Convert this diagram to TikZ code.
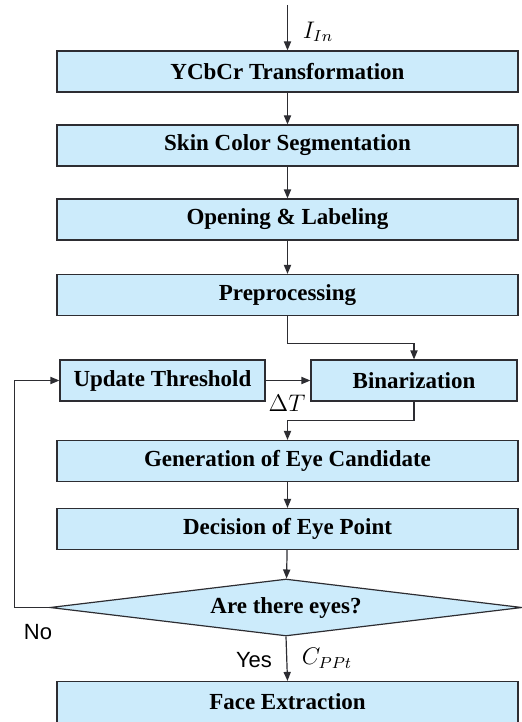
\documentclass[tikz,border=0pt]{standalone}
\usepackage{fontspec}
\setmainfont{Liberation Serif}
\newfontfamily\yesnofont{Liberation Sans}
\usepackage{tikz}
\usetikzlibrary{shapes.geometric, arrows.meta, positioning, calc}
\definecolor{boxblue}{RGB}{204,235,251}
\definecolor{edgegray}{RGB}{45,45,50}

\begin{document}
\begin{tikzpicture}[
    x=0.5pt, y=-0.5pt,
    box/.style={rectangle, draw=edgegray, line width=0.6pt, fill=boxblue, minimum height=20.5pt, inner sep=0pt, align=center, font=\fontsize{11.5}{13}\selectfont\bfseries},
    check/.style={diamond, aspect=8.28, draw=edgegray, line width=0.6pt, fill=boxblue, minimum width=236pt, minimum height=28.5pt, inner sep=0pt, font=\fontsize{11.5}{13}\selectfont\bfseries},
    arrow/.style={-{Triangle[length=4.5pt,width=3.6pt]}, line width=0.6pt, draw=edgegray},
    mathlbl/.style={font=\fontsize{11.5}{13}\selectfont},
    yesno/.style={font=\fontsize{11}{13}\selectfont\yesnofont}
]
\useasboundingbox (0,0) rectangle (522,722);

\coordinate (input) at (287.5,5);
\node[box, minimum width=230.5pt] (ycbcr) at (287.5,71.5) {YCbCr Transformation};
\node[box, minimum width=230.5pt] (skin) at (287.5,145.5) {Skin Color Segmentation};
\node[box, minimum width=230.5pt] (opening) at (287.5,219.5) {Opening \& Labeling};
\node[box, minimum width=230.5pt] (prep) at (287.5,295) {Preprocessing};
\node[box, minimum width=102.5pt] (update) at (162.5,380.5) {Update Threshold};
\node[box, minimum width=103pt] (binar) at (414,380.5) {Binarization};
\node[box, minimum width=230.5pt] (gen) at (287.5,461) {Generation of Eye Candidate};
\node[box, minimum width=230.5pt] (decide) at (287.5,529) {Decision of Eye Point};
\node[check] (eyes) at (286,607.5) {Are there eyes?};
\node[box, minimum width=230.5pt] (face) at (287.5,702) {Face Extraction};

\node[mathlbl] (iin) at (318,32) {$I_{In}$};
\node[mathlbl] (dt) at (287,403) {$\Delta T$};
\node[yesno] (yes) at (254,660) {Yes};
\node[yesno] (no) at (38,632) {No};
\node[mathlbl] (cppt) at (327,658) {$C_{PPt}$};

\draw[arrow] (input) -- (ycbcr);
\draw[arrow] (ycbcr) -- (skin);
\draw[arrow] (skin) -- (opening);
\draw[arrow] (opening) -- (prep);
\draw[arrow] (prep.south) -- ++(0,27) -| (binar.north);
\draw[arrow] (update) -- (binar);
\draw[arrow] (binar.south) -- ++(0,19) -| (gen.north);
\draw[arrow] (gen) -- (decide);
\draw[arrow] (decide) -- (eyes);
\draw[arrow] (eyes.west) -- ++(-35,0) |- (update.west);
\draw[arrow] (eyes.south) -- (face.north);

\end{tikzpicture}
\end{document}
